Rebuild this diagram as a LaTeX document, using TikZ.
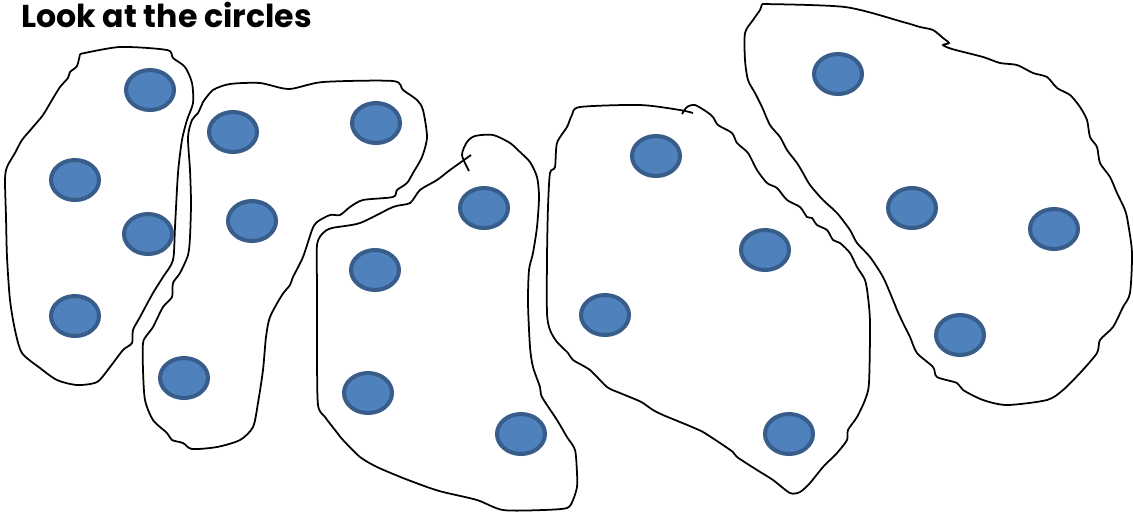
\documentclass[tikz,border=0pt]{standalone}
\usepackage{fontspec}
\setmainfont{Poppins}
\usepackage{xcolor}
\definecolor{dotfill}{RGB}{79,129,189}
\definecolor{dotedge}{RGB}{56,93,138}
\usetikzlibrary{shapes.geometric}

\tikzset{
  dot/.style={ellipse, draw=dotedge, fill=dotfill, line width=2.3pt,
              minimum width=0.96cm, minimum height=0.8cm, inner sep=0pt},
  blob/.style={draw=black, line width=1pt, smooth, tension=0.45}
}

\begin{document}
\begin{tikzpicture}[x=0.02cm, y=-0.02cm]
  \useasboundingbox (0,0) rectangle (1133,515);

  % Title
  \node[anchor=base west, inner sep=0pt, font=\fontsize{18}{21}\selectfont\bfseries]
       (title) at (21,27) {Look at the circles};

  % Group 1
  \draw[blob] plot coordinates {(80,54) (120,47) (167,50) (173,58) (185,67) (192,83)
       (193,103) (187,120) (182,140) (178,173) (175,227) (173,260) (163,277) (153,293)
       (140,317) (133,330) (132,343) (123,350) (110,367) (97,382) (77,385) (57,380)
       (40,368) (22,353) (15,330) (10,300) (7,257) (6,217) (5,180) (7,167) (15,153)
       (22,140) (33,127) (43,115) (52,100) (60,87) (68,78) (70,72) (77,66) (80,54)};
  \node[dot] (a1) at (150,90) {};
  \node[dot] (a2) at (75,180) {};
  \node[dot] (a3) at (148,234) {};
  \node[dot] (a4) at (75,316) {};

  % Group 2
  \draw[blob] plot coordinates {(203,102) (213,90) (230,84) (260,83) (289,89) (323,82)
       (393,81) (403,90) (417,100) (423,110) (427,137) (422,157) (413,173) (407,183)
       (397,190) (393,197) (363,200) (350,207) (340,215) (330,215) (317,222) (312,230)
       (303,257) (293,277) (290,285) (282,295) (270,317) (266,337) (263,370) (258,403)
       (253,427) (240,440) (217,447) (192,449) (183,443) (172,440) (167,433) (153,420)
       (145,400) (143,370) (143,343) (147,335) (153,327) (163,307) (172,297) (173,283)
       (180,273) (188,255) (190,237) (191,203) (190,170) (188,137) (192,120) (198,113)
       (203,102)};
  \node[dot] (b1) at (233,132) {};
  \node[dot] (b2) at (376,123) {};
  \node[dot] (b3) at (252,221) {};
  \node[dot] (b4) at (184,378) {};

  % Group 3
  \draw[blob] plot coordinates {(469,171) (462,155) (467,142) (475,136) (493,135)
       (510,143) (520,152) (530,162) (537,177) (539,197) (537,227) (533,253) (529,270)
       (528,303) (530,347) (533,367) (540,387) (542,397) (557,420) (567,437) (575,450)
       (577,473) (577,487) (573,500) (567,508) (543,510) (503,510) (477,500) (443,492)
       (427,487) (403,478) (377,467) (360,457) (343,440) (335,430) (325,417) (318,405)
       (317,353) (317,287) (317,245) (323,233) (332,228) (360,223) (393,207) (410,203)
       (420,190) (437,180) (450,170) (471,155)};
  \node[dot] (c1) at (484,208) {};
  \node[dot] (c2) at (375,270) {};
  \node[dot] (c3) at (368,393) {};
  \node[dot] (c4) at (521,434) {};

  % Group 4
  \draw[blob] plot coordinates {(682,114) (687,107) (695,105) (707,112) (713,117)
       (718,125) (732,133) (737,143) (748,153) (757,170) (767,183) (777,188) (787,200)
       (800,207) (807,217) (812,218) (817,225) (827,230) (833,240) (840,243) (850,253)
       (857,267) (865,280) (868,297) (870,323) (869,383) (865,400) (857,417) (848,430)
       (847,440) (837,453) (823,467) (810,483) (800,492) (790,493) (773,480) (757,470)
       (737,457) (733,452) (720,443) (703,432) (692,427) (680,422) (663,415) (653,410)
       (643,403) (637,400) (620,393) (607,387) (590,370) (573,360) (568,353) (557,342)
       (550,330) (547,313) (547,257) (548,207) (550,173) (555,167) (557,143) (567,127)
       (572,115) (580,107) (640,105) (680,110) (693,113)};
  \node[dot] (d1) at (656,156) {};
  \node[dot] (d2) at (765,250) {};
  \node[dot] (d3) at (605,315) {};
  \node[dot] (d4) at (789,434) {};

  % Group 5
  \draw[blob] plot coordinates {(762,4) (845,7) (903,22) (920,27) (933,30) (943,38)
       (949,43) (943,45) (952,49) (983,57) (1000,63) (1017,65) (1033,73) (1047,77)
       (1057,88) (1070,95) (1080,107) (1087,120) (1090,137) (1097,147) (1100,163)
       (1110,177) (1117,193) (1125,210) (1128,223) (1132,253) (1130,293) (1123,307)
       (1113,327) (1100,340) (1097,353) (1080,373) (1063,390) (1047,400) (1007,405)
       (983,400) (963,390) (957,383) (937,377) (933,367) (917,353) (910,337) (903,323)
       (897,310) (893,300) (883,277) (870,257) (857,243) (850,230) (837,213) (823,200)
       (810,185) (803,173) (797,163) (787,150) (780,137) (770,125) (762,107) (755,93)
       (748,80) (745,60) (745,33) (753,20) (760,10) (762,4)};
  \node[dot] (e1) at (838,74) {};
  \node[dot] (e2) at (912,208) {};
  \node[dot] (e3) at (1054,229) {};
  \node[dot] (e4) at (960,335) {};
\end{tikzpicture}
\end{document}
